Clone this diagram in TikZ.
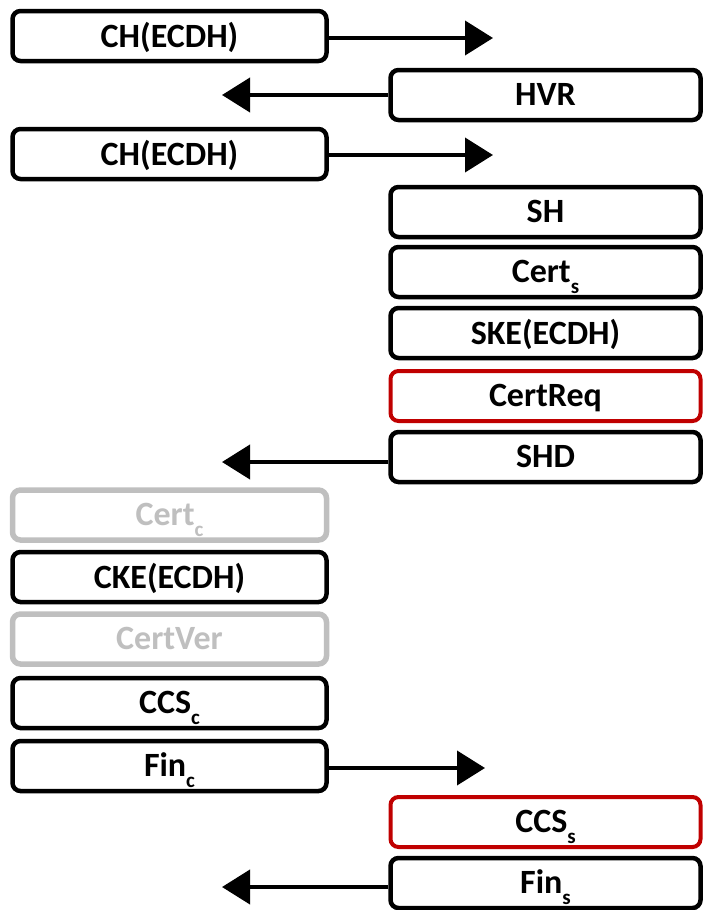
\documentclass[tikz,border=0pt]{standalone}
\usepackage{fontspec}
\setmainfont{Carlito}
\usetikzlibrary{arrows.meta}
\definecolor{msgred}{RGB}{192,0,0}
\definecolor{optgray}{RGB}{191,191,191}
% lowered subscript as used in the message names
\newcommand{\lowsub}[1]{\raisebox{-0.32em}{\fontsize{21}{21}\selectfont #1}}
\begin{document}
\begin{tikzpicture}[x=1pt,y=-1pt,
  msg/.style={draw=black, line width=4.5pt, rounded corners=8pt, fill=white,
    minimum height=50pt, inner sep=0pt, text depth=2pt,
    font=\fontsize{34}{38}\selectfont\bfseries},
  cmsg/.style={msg, minimum width=314pt},
  smsg/.style={msg, minimum width=310pt},
  special/.style={draw=msgred, line width=4pt},
  optional/.style={draw=optgray, text=optgray, line width=5.5pt},
  flow/.style={line width=4pt, -{Triangle[length=28pt,width=34pt]}}]
\useasboundingbox (0,0) rectangle (703,910);

% client side (left column)
\node[cmsg] (ch1)  at (169.5,36)  {CH(ECDH)};
\node[cmsg] (ch2)  at (169.5,154) {CH(ECDH)};
\node[cmsg, optional] (certc) at (169.5,515) {Cert\lowsub{c}};
\node[cmsg] (cke)  at (169.5,577) {CKE(ECDH)};
\node[cmsg, optional] (certver) at (169.5,639) {CertVer};
\node[cmsg] (ccsc) at (169.5,703) {CCS\lowsub{c}};
\node[cmsg] (finc) at (169.5,766) {Fin\lowsub{c}};

% server side (right column)
\node[smsg] (hvr)  at (545.5,95)  {HVR};
\node[smsg] (sh)   at (545.5,212) {SH};
\node[smsg] (certs) at (545.5,272) {Cert\lowsub{s}};
\node[smsg] (ske)  at (545.5,333) {SKE(ECDH)};
\node[smsg, special] (certreq) at (545.5,396) {CertReq};
\node[smsg] (shd)  at (545.5,457) {SHD};
\node[smsg, special] (ccss) at (545.5,822) {CCS\lowsub{s}};
\node[smsg] (fins) at (545.5,883) {Fin\lowsub{s}};

% arrow end points
\coordinate (t1) at (493,38);
\coordinate (t2) at (222,95);
\coordinate (t3) at (493,155);
\coordinate (t4) at (222,462);
\coordinate (t5) at (485,768);
\coordinate (t6) at (222,887);

\draw[flow] (ch1.east |- t1) -- (t1);
\draw[flow] (hvr.west) -- (t2);
\draw[flow] (ch2.east |- t3) -- (t3);
\draw[flow] (shd.west |- t4) -- (t4);
\draw[flow] (finc.east |- t5) -- (t5);
\draw[flow] (fins.west |- t6) -- (t6);
\end{tikzpicture}
\end{document}
